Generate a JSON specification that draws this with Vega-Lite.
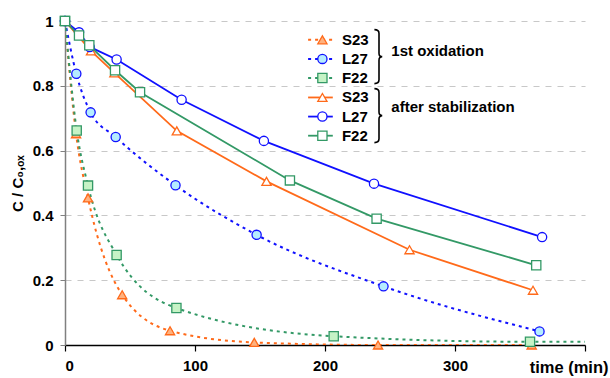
{
  "$schema": "https://vega.github.io/schema/vega-lite/v6.json",
  "width": 520,
  "height": 324,
  "autosize": "none",
  "padding": {"left": 65, "top": 21, "right": 25, "bottom": 33},
  "background": "white",
  "config": {
    "view": {"stroke": null},
    "font": "Liberation Sans",
    "axis": {"labelFont": "Liberation Sans", "labelFontWeight": "bold", "labelColor": "black", "labelFontSize": 15, "titleFont": "Liberation Sans", "titleFontWeight": "bold", "titleColor": "black"}
  },
  "datasets": {
    "curves": [
      {"series": "S23 ox", "time": 0, "c": 1},
      {"series": "S23 ox", "time": 8.5, "c": 0.652},
      {"series": "S23 ox", "time": 17.7, "c": 0.454},
      {"series": "S23 ox", "time": 44, "c": 0.155},
      {"series": "S23 ox", "time": 80.8, "c": 0.044},
      {"series": "S23 ox", "time": 145.6, "c": 0.008},
      {"series": "S23 ox", "time": 240.8, "c": 0.0},
      {"series": "S23 ox", "time": 359, "c": 0.0},
      {"series": "L27 ox", "time": 0, "c": 1},
      {"series": "L27 ox", "time": 8.7, "c": 0.837},
      {"series": "L27 ox", "time": 19.7, "c": 0.718},
      {"series": "L27 ox", "time": 39, "c": 0.642},
      {"series": "L27 ox", "time": 85, "c": 0.493},
      {"series": "L27 ox", "time": 147.4, "c": 0.34},
      {"series": "L27 ox", "time": 245, "c": 0.181},
      {"series": "L27 ox", "time": 365, "c": 0.042},
      {"series": "F22 ox", "time": 0, "c": 1},
      {"series": "F22 ox", "time": 9, "c": 0.662},
      {"series": "F22 ox", "time": 17.7, "c": 0.492},
      {"series": "F22 ox", "time": 39.7, "c": 0.278},
      {"series": "F22 ox", "time": 85.7, "c": 0.114},
      {"series": "F22 ox", "time": 206.7, "c": 0.027},
      {"series": "F22 ox", "time": 357.7, "c": 0.01},
      {"series": "F22 ox", "time": 400, "c": 0.01},
      {"series": "S23 st", "time": 0, "c": 1},
      {"series": "S23 st", "time": 20, "c": 0.908},
      {"series": "S23 st", "time": 38, "c": 0.84},
      {"series": "S23 st", "time": 86, "c": 0.661},
      {"series": "S23 st", "time": 155, "c": 0.505},
      {"series": "S23 st", "time": 265, "c": 0.294},
      {"series": "S23 st", "time": 360, "c": 0.169},
      {"series": "L27 st", "time": 0, "c": 1},
      {"series": "L27 st", "time": 10.8, "c": 0.965},
      {"series": "L27 st", "time": 19, "c": 0.92},
      {"series": "L27 st", "time": 39.7, "c": 0.881},
      {"series": "L27 st", "time": 89.7, "c": 0.757},
      {"series": "L27 st", "time": 153, "c": 0.63},
      {"series": "L27 st", "time": 237.7, "c": 0.498},
      {"series": "L27 st", "time": 367, "c": 0.333},
      {"series": "F22 st", "time": 0, "c": 1},
      {"series": "F22 st", "time": 10.8, "c": 0.955},
      {"series": "F22 st", "time": 18.7, "c": 0.925},
      {"series": "F22 st", "time": 38.5, "c": 0.848},
      {"series": "F22 st", "time": 57.7, "c": 0.78},
      {"series": "F22 st", "time": 173, "c": 0.508},
      {"series": "F22 st", "time": 239.7, "c": 0.39},
      {"series": "F22 st", "time": 362.5, "c": 0.246}
    ]
  },
  "encoding": {
    "x": {"type": "quantitative"},
    "y": {"type": "quantitative"}
  },
  "layer": [
    {
      "data": {"name": "curves"},
      "transform": [{"filter": "indexof(datum.series, 'ox') >= 0"}],
      "mark": {"type": "line", "strokeDash": [3, 4], "strokeWidth": 2, "interpolate": "monotone", "clip": true},
      "encoding": {
        "x": {"field": "time", "type": "quantitative", "scale": {"domain": [0, 400], "nice": false},
          "axis": {"values": [0, 100, 200, 300, 400], "labelExpr": "datum.value == 400 ? '' : datum.label", "domainColor": "black", "domainWidth": 1.5, "tickColor": "black", "tickWidth": 1.2, "tickSize": 6, "labelPadding": 7, "grid": false,
            "title": "time (min)", "titleFontSize": 16.5, "titleX": 543, "titleY": 27, "titleAlign": "right", "titleBaseline": "alphabetic", "titleAngle": 0}},
        "y": {"field": "c", "type": "quantitative", "scale": {"domain": [0, 1], "nice": false},
          "axis": {"values": [0, 0.2, 0.4, 0.6, 0.8, 1], "format": "~g", "domainColor": "#808080", "domainWidth": 1.5, "tickColor": "#808080", "tickSize": 5, "labelPadding": 7, "grid": true, "gridColor": "#c8c8c8", "gridDash": [6, 6], "gridWidth": 1.2,
            "title": "C / C₀,ₒₓ", "titleFontSize": 15, "titleX": -48, "titleY": 162, "titleAngle": -90, "titleAlign": "center", "titleBaseline": "middle"}},
        "stroke": {"field": "series", "type": "nominal", "legend": null,
          "scale": {"domain": ["S23 ox", "L27 ox", "F22 ox", "S23 st", "L27 st", "F22 st"], "range": ["#ff6a1a", "#1010ff", "#339966", "#ff6a1a", "#1010ff", "#339966"]}},
        "detail": {"field": "series"}
      }
    },
    {
      "data": {"name": "curves"},
      "transform": [{"filter": "indexof(datum.series, 'st') >= 0"}],
      "mark": {"type": "line", "strokeWidth": 1.8},
      "encoding": {
        "x": {"field": "time", "type": "quantitative"},
        "y": {"field": "c", "type": "quantitative"},
        "stroke": {"field": "series", "type": "nominal", "legend": null},
        "detail": {"field": "series"}
      }
    },
    {
      "data": {"name": "curves"},
      "transform": [{"filter": "datum.time < 400"}],
      "mark": {"type": "point", "filled": false, "strokeWidth": 1.3, "opacity": 1},
      "encoding": {
        "x": {"field": "time", "type": "quantitative"},
        "y": {"field": "c", "type": "quantitative"},
        "stroke": {"field": "series", "type": "nominal", "legend": null},
        "fill": {"field": "series", "type": "nominal", "legend": null,
          "scale": {"domain": ["S23 ox", "L27 ox", "F22 ox", "S23 st", "L27 st", "F22 st"], "range": ["#ffb27f", "#b5ecff", "#c6f3c6", "#ffffff", "#ffffff", "#ffffff"]}},
        "shape": {"field": "series", "type": "nominal", "legend": null,
          "scale": {"domain": ["S23 ox", "L27 ox", "F22 ox", "S23 st", "L27 st", "F22 st"], "range": ["triangle-up", "circle", "square", "triangle-up", "circle", "square"]}},
        "size": {"value": 85}
      }
    },
    {
      "data": {"values": [
        {"series": "S23 ox", "label": "S23", "ly": 0.942},
        {"series": "L27 ox", "label": "L27", "ly": 0.883},
        {"series": "F22 ox", "label": "F22", "ly": 0.824}
      ]},
      "layer": [
        {"mark": {"type": "rule", "strokeDash": [3, 4], "strokeWidth": 2},
         "encoding": {"x": {"datum": 187}, "x2": {"datum": 206}, "y": {"field": "ly", "type": "quantitative"}, "stroke": {"field": "series", "type": "nominal", "legend": null}}},
        {"mark": {"type": "point", "filled": false, "strokeWidth": 1.3, "opacity": 1, "size": 85},
         "encoding": {"x": {"datum": 198}, "y": {"field": "ly", "type": "quantitative"}, "stroke": {"field": "series", "type": "nominal", "legend": null}, "fill": {"field": "series", "type": "nominal", "legend": null}, "shape": {"field": "series", "type": "nominal", "legend": null}}},
        {"mark": {"type": "text", "align": "left", "baseline": "middle", "fontSize": 15, "fontWeight": "bold", "font": "Liberation Sans", "color": "black"},
         "encoding": {"x": {"datum": 213}, "y": {"field": "ly", "type": "quantitative"}, "text": {"field": "label"}}}
      ]
    },
    {
      "data": {"values": [
        {"series": "S23 st", "label": "S23", "ly": 0.764},
        {"series": "L27 st", "label": "L27", "ly": 0.705},
        {"series": "F22 st", "label": "F22", "ly": 0.646}
      ]},
      "layer": [
        {"mark": {"type": "rule", "strokeWidth": 1.8},
         "encoding": {"x": {"datum": 187}, "x2": {"datum": 206}, "y": {"field": "ly", "type": "quantitative"}, "stroke": {"field": "series", "type": "nominal", "legend": null}}},
        {"mark": {"type": "point", "filled": false, "strokeWidth": 1.3, "opacity": 1, "size": 85},
         "encoding": {"x": {"datum": 198}, "y": {"field": "ly", "type": "quantitative"}, "stroke": {"field": "series", "type": "nominal", "legend": null}, "fill": {"field": "series", "type": "nominal", "legend": null}, "shape": {"field": "series", "type": "nominal", "legend": null}}},
        {"mark": {"type": "text", "align": "left", "baseline": "middle", "fontSize": 15, "fontWeight": "bold", "font": "Liberation Sans", "color": "black"},
         "encoding": {"x": {"datum": 213}, "y": {"field": "ly", "type": "quantitative"}, "text": {"field": "label"}}}
      ]
    },
    {
      "data": {"values": [
        {"group": "1st oxidation", "gy": 0.906, "by": 0.89},
        {"group": "after stabilization", "gy": 0.736, "by": 0.708}
      ]},
      "layer": [
        {"mark": {"type": "point", "shape": "M -0.12 -1 Q 0.05 -1 0.05 -0.86 L 0.05 -0.13 Q 0.05 0 0.17 0 Q 0.05 0 0.05 0.13 L 0.05 0.86 Q 0.05 1 -0.12 1", "filled": false, "stroke": "black", "strokeWidth": 1.6, "opacity": 1, "size": 2916},
         "encoding": {"x": {"datum": 240.5}, "y": {"field": "by", "type": "quantitative"}}},
        {"mark": {"type": "text", "align": "left", "baseline": "middle", "fontSize": 15, "fontWeight": "bold", "font": "Liberation Sans", "color": "black"},
         "encoding": {"x": {"datum": 251}, "y": {"field": "gy", "type": "quantitative"}, "text": {"field": "group"}}}
      ]
    }
  ]
}
